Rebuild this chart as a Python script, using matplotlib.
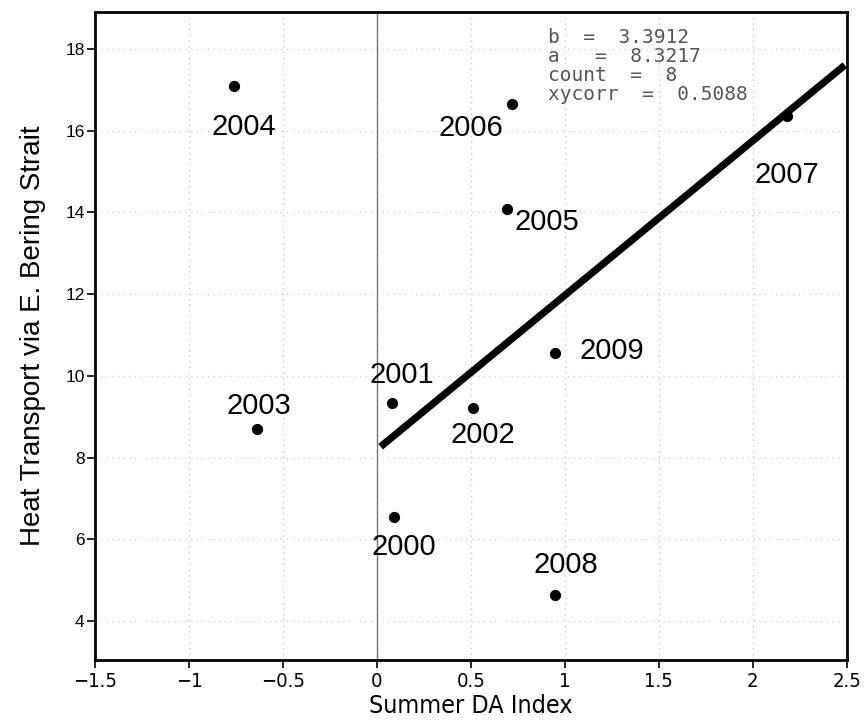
import numpy as np
import matplotlib
matplotlib.use("Agg")
import matplotlib.pyplot as plt

# summer DA index vs heat transport, one point per year
years = ["2000", "2001", "2002", "2003", "2004", "2005", "2006", "2007", "2008", "2009"]
da_index = [0.09, 0.08, 0.51, -0.64, -0.76, 0.69, 0.72, 2.18, 0.95, 0.95]
heat = [6.55, 9.33, 9.22, 8.70, 17.10, 14.08, 16.66, 16.35, 4.64, 10.56]

# regression line as drawn
fit_x = [0.02, 2.49]
fit_y = [8.27, 17.6]

stats = ["b  =  3.3912", "a   =  8.3217", "count  =  8", "xycorr  =  0.5088"]

xticks = [-1.5, -1, -0.5, 0, 0.5, 1, 1.5, 2, 2.5]
xticklabels = ["\u22121.5", "\u22121", "\u22120.5", "0", "0.5", "1", "1.5", "2", "2.5"]
yticks = [4, 6, 8, 10, 12, 14, 16, 18]

# label offsets in pixels (dx, dy) from each point
offs = [(10, -30), (10, 28), (10, -27), (2, 23), (10, -41), (40, -13),
        (-41, -24), (0, -59), (10, 30), (56, 2)]

fig = plt.figure(figsize=(8.66, 7.27), dpi=100)
ax = fig.add_axes([0.1097, 0.092, 0.868, 0.8915])

ax.set_xlim(-1.5, 2.5)
ax.set_ylim(3.05, 18.9)

for v in xticks[1:-1]:
    ax.axvline(v, color="#c4c4c4", lw=0.9, ls=(0, (1, 3.5)), zorder=0)
for v in yticks:
    ax.axhline(v, color="#d0d0d0", lw=0.9, ls=(0, (1, 3.5)), zorder=0)
ax.axvline(0, color="#777777", lw=1.0, zorder=1)

ax.plot(fit_x, fit_y, color="black", lw=5.2, solid_capstyle="butt", zorder=2)
ax.scatter(da_index, heat, s=50, color="black", zorder=3)

for yr, x, y, (dx, dy) in zip(years, da_index, heat, offs):
    ax.annotate(yr, (x, y), xytext=(dx * 0.72, dy * 0.72), textcoords="offset points",
                ha="center", va="center", fontsize=21, family="Liberation Sans")

ax.text(548, 727 - 28, "\n".join(stats), transform=None, ha="left", va="top",
        fontsize=14, color="#555555", family="DejaVu Sans Mono", linespacing=1.0)

for s in ax.spines.values():
    s.set_linewidth(2)

ax.set_xticks(xticks)
ax.set_xticklabels(xticklabels, fontsize=14.5, family="DejaVu Sans", stretch="condensed")
ax.set_yticks(yticks)
ax.set_yticklabels([str(v) for v in yticks], fontsize=12.5, family="Liberation Sans")
ax.tick_params(direction="out", length=5.5, width=1.2, top=False, right=False, pad=2)
ax.tick_params(axis="x", pad=3)

ax.set_xlabel("Summer DA Index", fontsize=18, family="DejaVu Sans", stretch="condensed", labelpad=2)
ax.set_ylabel("Heat Transport via E. Bering Strait", fontsize=20, family="Liberation Sans", labelpad=14)

fig.savefig("out.png", dpi=100)
